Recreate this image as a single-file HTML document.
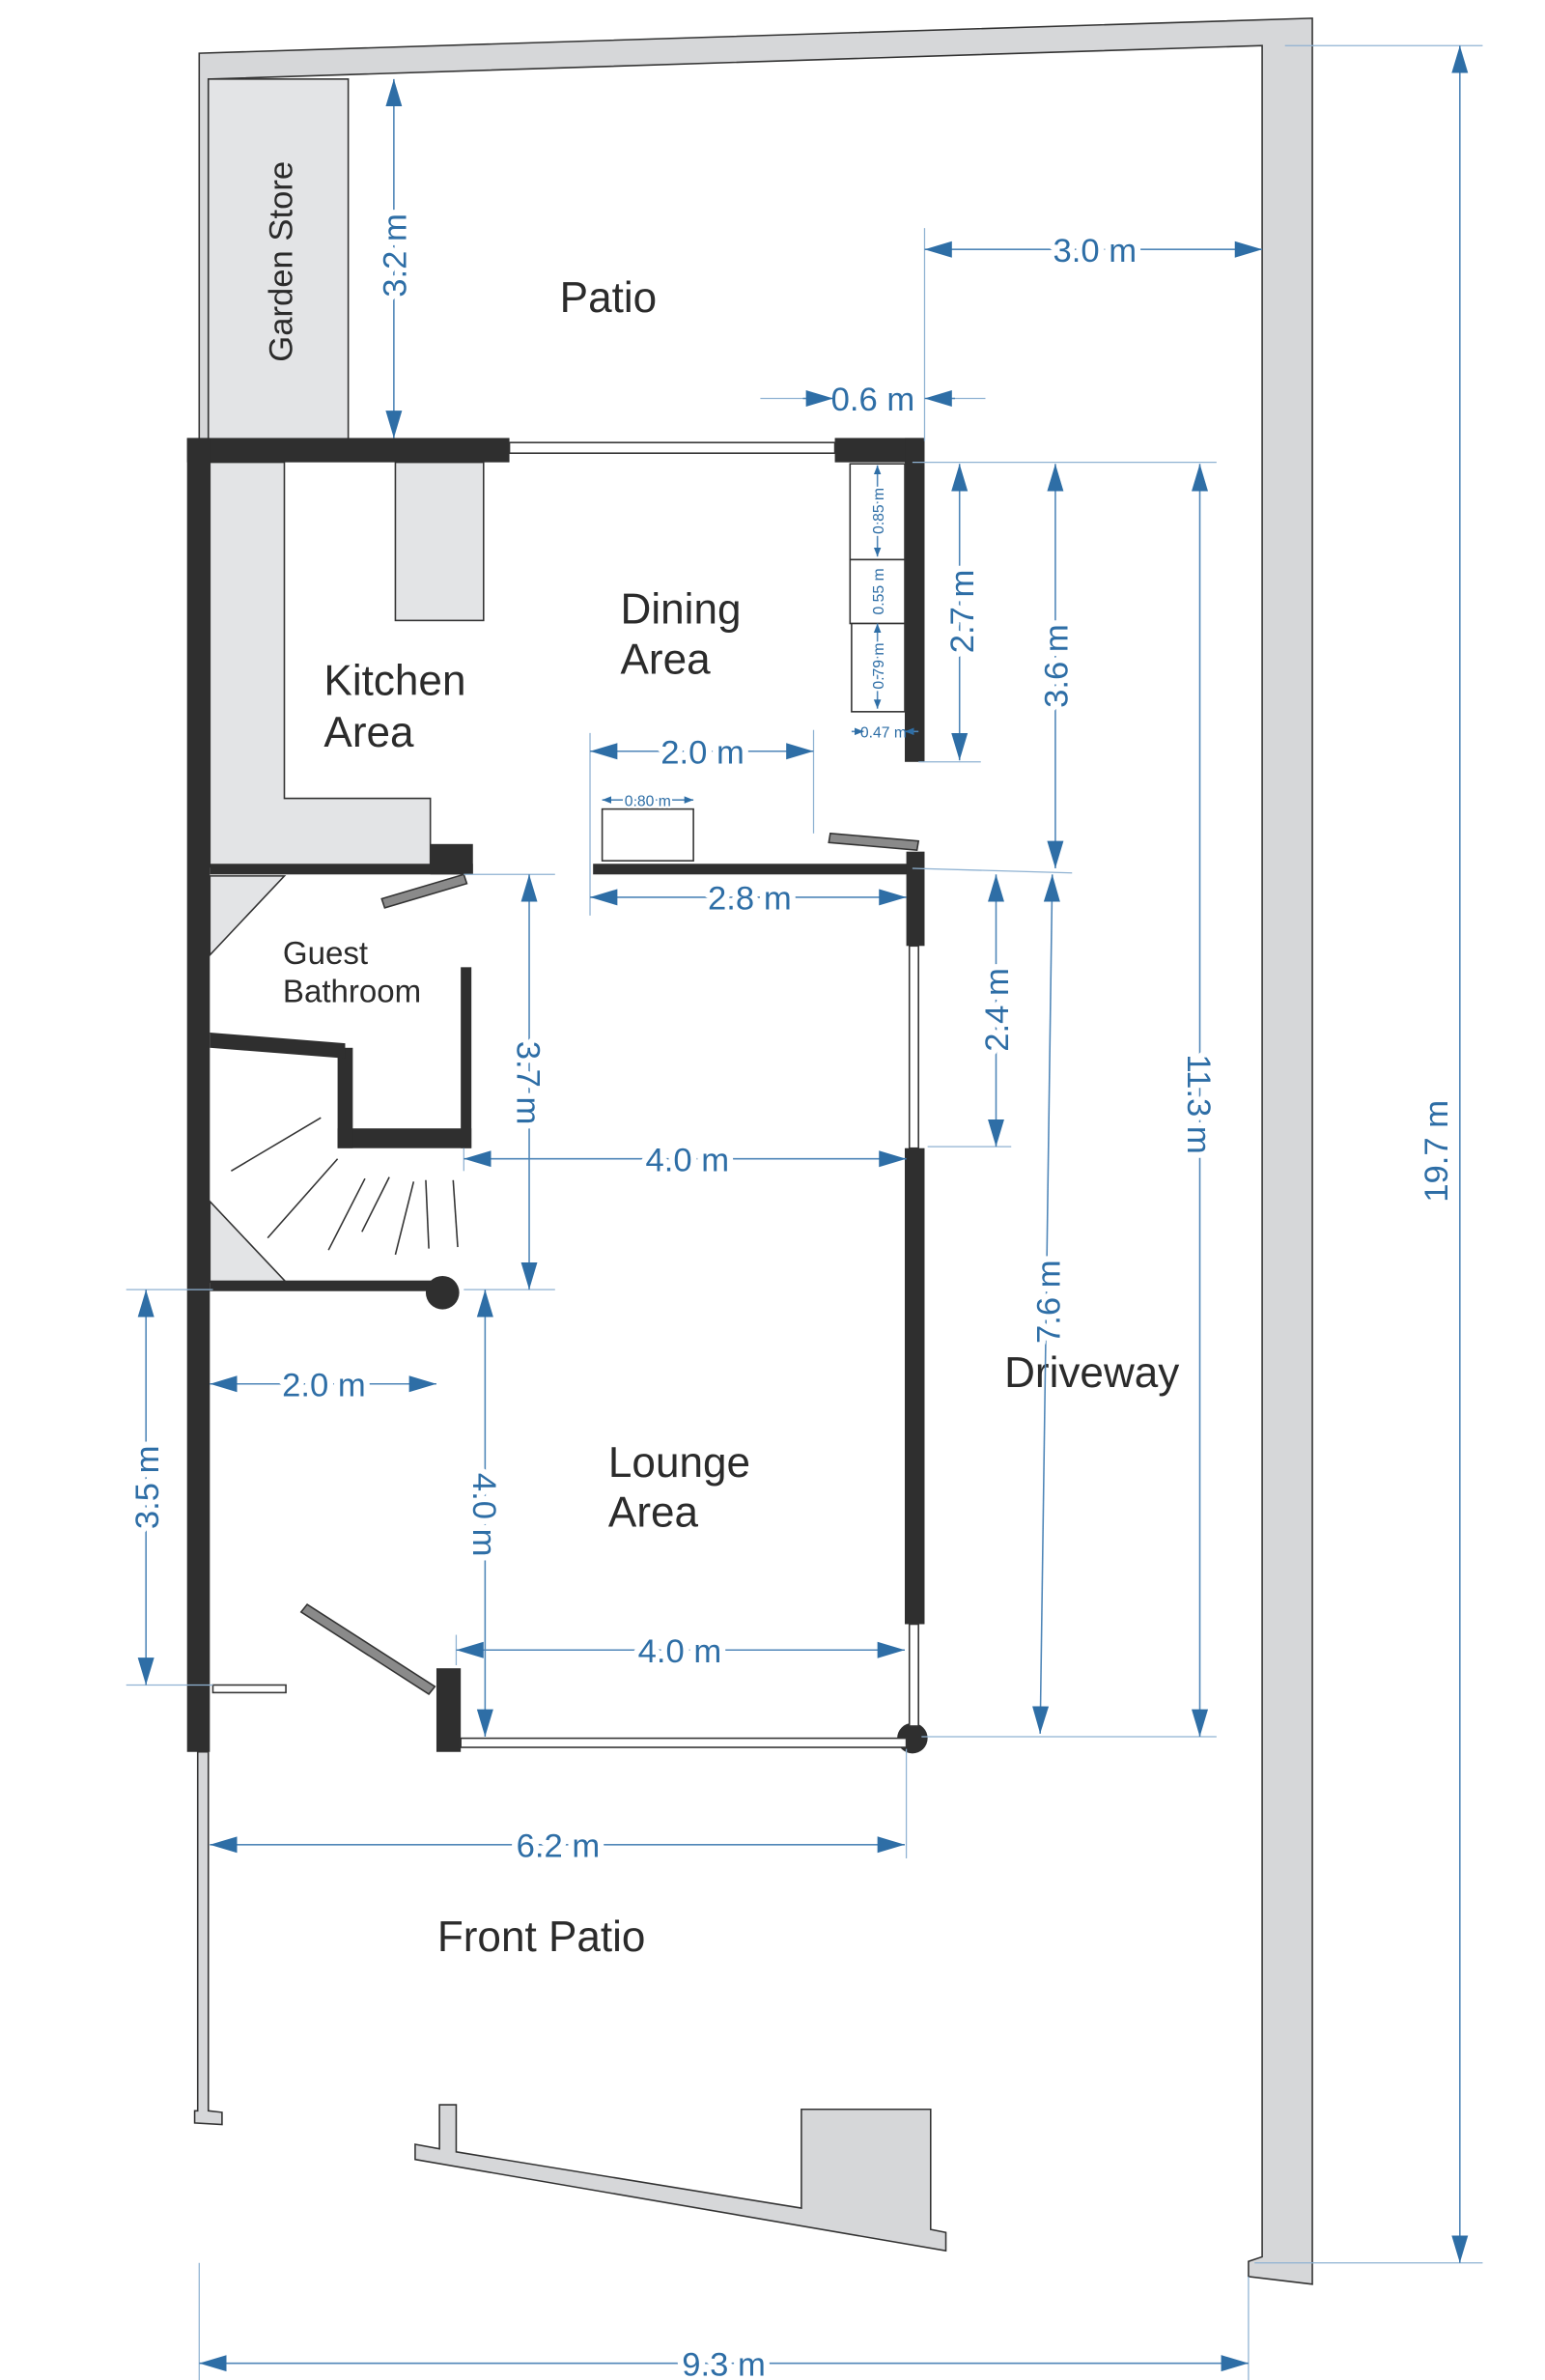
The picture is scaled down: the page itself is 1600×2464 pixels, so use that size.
<!DOCTYPE html>
<html><head><meta charset="utf-8"><style>
html,body{margin:0;padding:0;background:#fff;}
svg{display:block;}
text{font-family:"Liberation Sans",sans-serif;}
.lbl{fill:#2b2b2b;}
.dim{fill:#2e6ea6;paint-order:stroke;stroke:#fff;stroke-width:8px;stroke-linejoin:round;}
.dl{stroke:#4f86b8;stroke-width:1;fill:none;}
.ext{stroke:#8fb2d2;stroke-width:0.8;fill:none;}
</style></head><body>
<svg width="1600" height="2464" viewBox="0 0 1016 1565" preserveAspectRatio="none" xmlns="http://www.w3.org/2000/svg">
<defs>
<marker id="a" viewBox="0 0 20 12" refX="20" refY="6" markerWidth="18" markerHeight="11" markerUnits="userSpaceOnUse" orient="auto-start-reverse"><path d="M0,0 L20,6 L0,12 z" fill="#2e6ea6"/></marker>
<marker id="s" viewBox="0 0 10 8" refX="10" refY="4" markerWidth="6" markerHeight="5" markerUnits="userSpaceOnUse" orient="auto-start-reverse"><path d="M0,0 L10,4 L0,8 z" fill="#2e6ea6"/></marker>
</defs>
<rect width="1016" height="1565" fill="#fff"/>
<!-- outer boundary -->
<polygon points="131,35 863,12 863,1502 821,1497 821,1487 830,1484 830,30 137,52 137,290 131,290" fill="#d6d7d9" stroke="#333" stroke-width="1"/>
<rect x="137" y="52" width="92" height="238" fill="#e3e4e6" stroke="#333" stroke-width="1"/>
<!-- front lower boundary -->
<polygon points="130,1152 137,1152 137,1388 146,1389 146,1397 128,1396 128,1388 130,1388" fill="#d6d7d9" stroke="#333" stroke-width="1"/>
<polygon points="273,1410 289,1413 289,1384 300,1384 300,1415 527,1452 527,1387 612,1387 612,1466 622,1468 622,1480 273,1420" fill="#d6d7d9" stroke="#333" stroke-width="1"/>
<!-- kitchen counters -->
<polygon points="138,304 187,304 187,525 283,525 283,570 138,570" fill="#e3e4e6" stroke="#333" stroke-width="1"/>
<rect x="260" y="304" width="58" height="104" fill="#e3e4e6" stroke="#333" stroke-width="1"/>
<!-- gray triangles -->
<polygon points="138,576 187,576 138,628" fill="#e3e4e6" stroke="#333" stroke-width="1"/>
<polygon points="138,790 188,843 138,843" fill="#e3e4e6" stroke="#333" stroke-width="1"/>
<!-- dark walls -->
<g fill="#2f2f2f">
<rect x="123" y="288" width="212" height="16"/>
<rect x="549" y="288" width="59" height="16"/>
<rect x="595" y="288" width="13" height="213"/>
<rect x="123" y="288" width="15" height="864"/>
<rect x="283" y="555" width="28" height="20"/>
<rect x="138" y="568" width="173" height="7"/>
<rect x="390" y="568" width="210" height="7"/>
<rect x="596" y="560" width="12" height="62"/>
<rect x="595" y="755" width="13" height="313"/>
<circle cx="600" cy="1143" r="10"/>
<rect x="303" y="636" width="7" height="119"/>
<rect x="222" y="742" width="88" height="13"/>
<rect x="222" y="689" width="10" height="66"/>
<polygon points="138,679 227,686 227,696 138,689"/>
<rect x="138" y="842" width="152" height="7"/>
<circle cx="291" cy="850" r="11"/>
<rect x="287" y="1097" width="16" height="55"/>
</g>
<!-- windows -->
<g fill="#fff" stroke="#333" stroke-width="1">
<rect x="335" y="291" width="214" height="7"/>
<rect x="598" y="622" width="6" height="133"/>
<rect x="598" y="1068" width="6" height="67"/>
<rect x="303" y="1143" width="293" height="6"/>
<rect x="140" y="1108" width="48" height="5"/>
</g>
<!-- doors -->
<g fill="#8a8a8a" stroke="#333" stroke-width="1">
<polygon points="251,591 305,575 307,581 253,597"/>
<polygon points="546,548 604,553 603,559 545,554"/>
<polygon points="198,1060 202,1055 286,1109 282,1114"/>
</g>
<!-- stairs -->
<g stroke="#333" stroke-width="1">
<line x1="152" y1="770" x2="211" y2="735"/>
<line x1="176" y1="814" x2="222" y2="762"/>
<line x1="216" y1="822" x2="240" y2="775"/>
<line x1="238" y1="810" x2="256" y2="774"/>
<line x1="260" y1="825" x2="272" y2="777"/>
<line x1="282" y1="821" x2="280" y2="776"/>
<line x1="301" y1="820" x2="298" y2="776"/>
</g>
<!-- cabinets, table -->
<g fill="#fff" stroke="#333" stroke-width="1">
<rect x="559" y="305" width="36" height="63"/>
<rect x="559" y="368" width="36" height="42"/>
<rect x="560" y="410" width="35" height="58"/>
<rect x="396" y="532" width="60" height="34"/>
</g>
<!-- room labels -->
<g class="lbl">
<text x="400" y="205" font-size="28" text-anchor="middle">Patio</text>
<text x="408" y="410" font-size="28">Dining</text>
<text x="408" y="443" font-size="28">Area</text>
<text x="213" y="457" font-size="28">Kitchen</text>
<text x="213" y="491" font-size="28">Area</text>
<text x="186" y="634" font-size="21">Guest</text>
<text x="186" y="659" font-size="21">Bathroom</text>
<text x="400" y="971" font-size="28">Lounge</text>
<text x="400" y="1004" font-size="28">Area</text>
<text x="718" y="912" font-size="28" text-anchor="middle">Driveway</text>
<text x="356" y="1283" font-size="28" text-anchor="middle">Front Patio</text>
<text transform="translate(192,172) rotate(-90)" font-size="22" text-anchor="middle">Garden Store</text>
</g>
<!-- extension lines -->
<g class="ext">
<line x1="608" y1="150" x2="608" y2="290"/>
<line x1="500" y1="262" x2="546" y2="262"/>
<line x1="610" y1="262" x2="648" y2="262"/>
<line x1="600" y1="304" x2="800" y2="304"/>
<line x1="604" y1="501" x2="645" y2="501"/>
<line x1="600" y1="571" x2="705" y2="574"/>
<line x1="610" y1="754" x2="665" y2="754"/>
<line x1="606" y1="1142" x2="800" y2="1142"/>
<line x1="845" y1="30" x2="975" y2="30"/>
<line x1="825" y1="1488" x2="975" y2="1488"/>
<line x1="388" y1="482" x2="388" y2="602"/>
<line x1="535" y1="480" x2="535" y2="548"/>
<line x1="83" y1="848" x2="140" y2="848"/>
<line x1="83" y1="1108" x2="140" y2="1108"/>
<line x1="305" y1="848" x2="365" y2="848"/>
<line x1="305" y1="575" x2="365" y2="575"/>
<line x1="305" y1="755" x2="305" y2="770"/>
<line x1="300" y1="1075" x2="300" y2="1095"/>
<line x1="596" y1="1150" x2="596" y2="1222"/>
<line x1="131" y1="1488" x2="131" y2="1565"/>
<line x1="821" y1="1497" x2="821" y2="1565"/>
</g>
<!-- dimension lines -->
<g class="dl">
<line x1="259" y1="52" x2="259" y2="288" marker-start="url(#a)" marker-end="url(#a)"/>
<line x1="608" y1="164" x2="830" y2="164" marker-start="url(#a)" marker-end="url(#a)"/>
<line x1="528" y1="262" x2="548" y2="262" marker-end="url(#a)"/>
<line x1="628" y1="262" x2="608" y2="262" marker-end="url(#a)"/>
<line x1="631" y1="305" x2="631" y2="500" marker-start="url(#a)" marker-end="url(#a)"/>
<line x1="694" y1="305" x2="694" y2="571" marker-start="url(#a)" marker-end="url(#a)"/>
<line x1="789" y1="305" x2="789" y2="1142" marker-start="url(#a)" marker-end="url(#a)"/>
<line x1="960" y1="30" x2="960" y2="1488" marker-start="url(#a)" marker-end="url(#a)"/>
<line x1="388" y1="494" x2="535" y2="494" marker-start="url(#a)" marker-end="url(#a)"/>
<line x1="396" y1="526" x2="456" y2="526" marker-start="url(#s)" marker-end="url(#s)"/>
<line x1="388" y1="590" x2="596" y2="590" marker-start="url(#a)" marker-end="url(#a)"/>
<line x1="655" y1="575" x2="655" y2="754" marker-start="url(#a)" marker-end="url(#a)"/>
<line x1="348" y1="575" x2="348" y2="848" marker-start="url(#a)" marker-end="url(#a)"/>
<line x1="305" y1="762" x2="596" y2="762" marker-start="url(#a)" marker-end="url(#a)"/>
<line x1="692" y1="575" x2="684" y2="1140" marker-start="url(#a)" marker-end="url(#a)"/>
<line x1="96" y1="848" x2="96" y2="1108" marker-start="url(#a)" marker-end="url(#a)"/>
<line x1="138" y1="910" x2="287" y2="910" marker-start="url(#a)" marker-end="url(#a)"/>
<line x1="319" y1="848" x2="319" y2="1142" marker-start="url(#a)" marker-end="url(#a)"/>
<line x1="300" y1="1085" x2="595" y2="1085" marker-start="url(#a)" marker-end="url(#a)"/>
<line x1="138" y1="1213" x2="595" y2="1213" marker-start="url(#a)" marker-end="url(#a)"/>
<line x1="131" y1="1554" x2="821" y2="1554" marker-start="url(#a)" marker-end="url(#a)"/>
<line x1="577" y1="306" x2="577" y2="366" marker-start="url(#s)" marker-end="url(#s)"/>
<line x1="577" y1="410" x2="577" y2="466" marker-start="url(#s)" marker-end="url(#s)"/>
<line x1="560" y1="481" x2="568" y2="481" marker-end="url(#s)"/>
<line x1="604" y1="481" x2="595" y2="481" marker-end="url(#s)"/>
</g>
<!-- dimension labels -->
<g class="dim" font-size="22" text-anchor="middle">
<text transform="translate(267,168) rotate(-90)">3.2 m</text>
<text x="720" y="172">3.0 m</text>
<text x="574" y="270" style="stroke:none">0.6 m</text>
<text transform="translate(640,402) rotate(-90)">2.7 m</text>
<text transform="translate(702,438) rotate(-90)">3.6 m</text>
<text transform="translate(781,726) rotate(90)">11.3 m</text>
<text transform="translate(952,757) rotate(-90)">19.7 m</text>
<text x="462" y="502">2.0 m</text>
<text x="493" y="598">2.8 m</text>
<text transform="translate(663,664) rotate(-90)">2.4 m</text>
<text transform="translate(340,712) rotate(90)">3.7 m</text>
<text x="452" y="770">4.0 m</text>
<text transform="translate(697,856) rotate(-90)">7.6 m</text>
<text transform="translate(104,978) rotate(-90)">3.5 m</text>
<text x="213" y="918">2.0 m</text>
<text transform="translate(311,996) rotate(90)">4.0 m</text>
<text x="447" y="1093">4.0 m</text>
<text x="367" y="1221">6.2 m</text>
<text x="476" y="1562">9.3 m</text>
</g>
<g class="dim" font-size="10" text-anchor="middle" style="stroke-width:3px">
<text x="426" y="530">0.80 m</text>
<text transform="translate(581,336) rotate(-90)">0.85 m</text>
<text transform="translate(581,389) rotate(-90)">0.55 m</text>
<text transform="translate(581,438) rotate(-90)">0.79 m</text>
<text x="581" y="485" style="stroke:none">0.47 m</text>
</g>
</svg>
</body></html>
